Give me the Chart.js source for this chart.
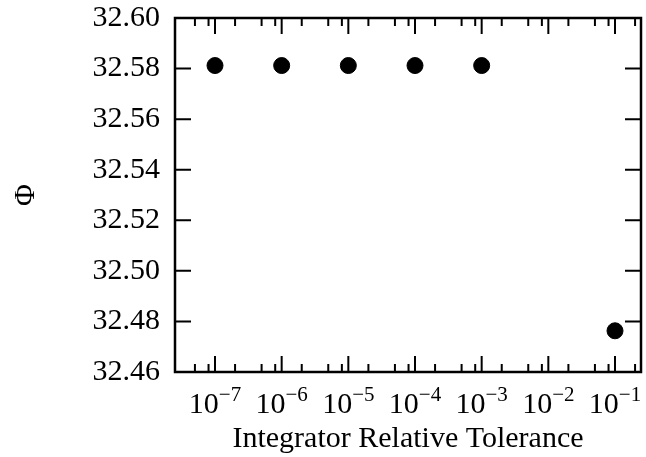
<!DOCTYPE html>
<html>
<head>
<meta charset="utf-8">
<script src="https://cdn.jsdelivr.net/npm/chart.js@4.4.0/dist/chart.umd.min.js"></script>
<style>
  html, body { margin: 0; padding: 0; background: #fff; overflow: hidden; }
  #wrap { position: relative; width: 646px; height: 457px; }
  #phiChart { display: block; }
</style>
</head>
<body>
<div id="wrap"><canvas id="phiChart"></canvas></div>
<script>
// integrator tolerance sweep
const tolerances = [1e-7, 1e-6, 1e-5, 1e-4, 1e-3, 1e-1];
const phiValues = [32.5812, 32.5812, 32.5812, 32.5812, 32.5812, 32.4763];

// axis ticks
const xMajorExponents = [-8, -7, -6, -5, -4, -3, -2, -1, 0];
const xLabelExponents = [-7, -6, -5, -4, -3, -2, -1];
const xMinorSubs = [2, 5, 8];
const yTicks = [32.46, 32.48, 32.50, 32.52, 32.54, 32.56, 32.58, 32.60];

const serif = '"Liberation Serif", "Times New Roman", serif';
const FONT_SIZE = 30;

// box around the plot with inward ticks, plus 10^n labels
const frameAndTicks = {
  id: 'frameAndTicks',
  afterDraw(chart) {
    const { ctx, chartArea: a, scales: { x, y } } = chart;
    ctx.save();
    ctx.strokeStyle = '#000';
    ctx.lineCap = 'butt';

    const inside = (px) => px >= a.left - 0.5 && px <= a.right + 0.5;
    const xTick = (px, len) => {
      ctx.beginPath();
      ctx.moveTo(px, a.bottom); ctx.lineTo(px, a.bottom - len);
      ctx.moveTo(px, a.top); ctx.lineTo(px, a.top + len);
      ctx.stroke();
    };

    ctx.lineWidth = 2;
    xMajorExponents.forEach(e => {
      const px = x.getPixelForValue(Math.pow(10, e));
      if (inside(px)) xTick(px, 16);
      xMinorSubs.forEach(s => {
        const mpx = x.getPixelForValue(s * Math.pow(10, e));
        if (inside(mpx)) xTick(mpx, 8);
      });
    });

    yTicks.forEach(v => {
      const py = y.getPixelForValue(v);
      ctx.beginPath();
      ctx.moveTo(a.left, py); ctx.lineTo(a.left + 16, py);
      ctx.moveTo(a.right, py); ctx.lineTo(a.right - 16, py);
      ctx.stroke();
    });

    ctx.lineWidth = 2.5;
    ctx.strokeRect(a.left, a.top, a.right - a.left, a.bottom - a.top);

    // tick labels as 10 with a raised exponent
    ctx.fillStyle = '#000';
    ctx.textBaseline = 'alphabetic';
    ctx.textAlign = 'left';
    const base = a.bottom + 41;
    xLabelExponents.forEach(e => {
      const px = x.getPixelForValue(Math.pow(10, e));
      const sup = '\u2212' + Math.abs(e);
      ctx.font = FONT_SIZE + 'px ' + serif;
      const w1 = ctx.measureText('10').width;
      ctx.font = Math.round(FONT_SIZE * 0.7) + 'px ' + serif;
      const w2 = ctx.measureText(sup).width;
      const start = px - (w1 + w2) / 2;
      ctx.font = FONT_SIZE + 'px ' + serif;
      ctx.fillText('10', start, base);
      ctx.font = Math.round(FONT_SIZE * 0.7) + 'px ' + serif;
      ctx.fillText(sup, start + w1, base - 12);
    });
    ctx.restore();
  }
};

// drop the label overflow padding so the layout padding sets the plot box
const noEdgePadding = (scale) => {
  scale.paddingTop = 0;
  scale.paddingBottom = 0;
  scale.paddingLeft = 0;
  scale.paddingRight = 0;
};

new Chart(document.getElementById('phiChart'), {
  type: 'scatter',
  data: {
    datasets: [{
      data: tolerances.map((t, i) => ({ x: t, y: phiValues[i] })),
      backgroundColor: '#000',
      borderColor: '#000',
      pointRadius: 8,
      pointHoverRadius: 8
    }]
  },
  options: {
    responsive: true,
    maintainAspectRatio: false,
    animation: false,
    layout: { autoPadding: false, padding: { top: 18, right: 5, left: 0, bottom: 0 } },
    plugins: { legend: { display: false }, tooltip: { enabled: false } },
    scales: {
      x: {
        type: 'logarithmic',
        min: Math.pow(10, -7.6),
        max: Math.pow(10, -0.61),
        grid: { display: false, drawTicks: false },
        border: { display: false },
        ticks: { display: false },
        title: {
          display: true,
          text: 'Integrator Relative Tolerance',
          color: '#000',
          font: { family: serif, size: FONT_SIZE },
          padding: { top: 5, bottom: 0 }
        },
        afterFit: (scale) => { scale.height = 85; noEdgePadding(scale); }
      },
      y: {
        min: 32.46,
        max: 32.60,
        grid: { display: false, drawTicks: false },
        border: { display: false },
        ticks: {
          stepSize: 0.02,
          color: '#000',
          padding: 15,
          font: { family: serif, size: FONT_SIZE },
          callback: (v) => v.toFixed(2)
        },
        title: {
          display: true,
          text: 'Φ',
          color: '#000',
          font: { family: serif, size: FONT_SIZE },
          padding: { top: 8, bottom: 0 }
        },
        afterFit: (scale) => { scale.width = 175; noEdgePadding(scale); }
      }
    }
  },
  plugins: [frameAndTicks]
});
</script>
</body>
</html>
